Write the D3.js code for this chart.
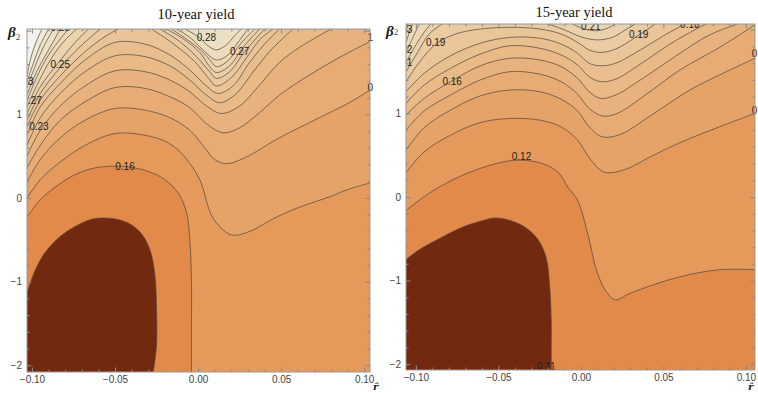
<!DOCTYPE html>
<html><head><meta charset="utf-8">
<script src="https://cdn.jsdelivr.net/npm/d3@7"></script>
<style>body{margin:0;background:#fff} svg{display:block}</style>
</head><body><svg id="c" width="758" height="393"></svg>
<script>
// ---------- axis ticks ----------
const xTicks = [-0.10, -0.05, 0, 0.05, 0.10];
const xTickLabels = ["\u22120.10", "\u22120.05", "0.00", "0.05", "0.10"];
const yTicks = [-2, -1, 0, 1];
const yTickLabels = ["\u22122", "\u22121", "0", "1"];

// ---------- 10-year yield: contour lines [r, beta] ----------
const levels10 = [0.15,0.16,0.17,0.18,0.19,0.20,0.21,0.22,0.23,0.24,0.25,0.26,0.27,0.28,0.29,0.30,0.31];
const c10_015 = [[-0.103,-1.13],[-0.098,-0.86],[-0.092,-0.65],[-0.083,-0.46],[-0.074,-0.34],[-0.065,-0.26],[-0.059,-0.24],[-0.050,-0.25],[-0.041,-0.31],[-0.034,-0.43],[-0.029,-0.62],[-0.026,-0.92],[-0.025,-1.34],[-0.025,-1.76],[-0.027,-2.08]];
const c10_016 = [[-0.103,-0.23],[-0.095,-0.02],[-0.086,0.13],[-0.074,0.28],[-0.062,0.36],[-0.052,0.38],[-0.041,0.37],[-0.029,0.31],[-0.020,0.22],[-0.012,0.06],[-0.007,-0.17],[-0.005,-0.50],[-0.004,-0.98],[-0.004,-1.58],[-0.004,-2.08]];
const c10_017 = [[-0.103,0.00],[-0.095,0.22],[-0.083,0.43],[-0.068,0.63],[-0.050,0.77],[-0.032,0.75],[-0.018,0.66],[-0.008,0.49],[0.001,0.22],[0.009,-0.24],[0.020,-0.44],[0.031,-0.40],[0.046,-0.24],[0.061,-0.11],[0.080,0.02],[0.090,0.10],[0.1035,0.18]];
const c10_018 = [[-0.103,0.19],[-0.095,0.46],[-0.083,0.72],[-0.068,0.93],[-0.050,1.07],[-0.032,1.05],[-0.017,0.96],[-0.005,0.81],[0.004,0.60],[0.010,0.46],[0.017,0.41],[0.028,0.48],[0.049,0.72],[0.073,0.96],[0.092,1.15],[0.1035,1.29]];
const c10_019 = [[-0.103,0.36],[-0.095,0.63],[-0.083,0.93],[-0.068,1.15],[-0.050,1.32],[-0.032,1.31],[-0.017,1.21],[-0.005,1.08],[0.005,0.89],[0.015,0.78],[0.025,0.84],[0.037,1.02],[0.049,1.23],[0.067,1.47],[0.086,1.69],[0.1035,1.87]];
const c10_020 = [[-0.103,0.50],[-0.095,0.81],[-0.083,1.10],[-0.068,1.34],[-0.050,1.52],[-0.032,1.51],[-0.017,1.41],[-0.005,1.27],[0.005,1.10],[0.014,1.01],[0.025,1.10],[0.037,1.35],[0.049,1.62],[0.061,1.80],[0.080,2.02]];
const c10_021 = [[-0.103,0.63],[-0.095,0.96],[-0.083,1.25],[-0.068,1.51],[-0.050,1.70],[-0.032,1.69],[-0.017,1.58],[-0.005,1.41],[0.005,1.23],[0.013,1.14],[0.022,1.23],[0.034,1.53],[0.043,1.75],[0.049,1.87],[0.057,2.02]];
const c10_022 = [[-0.103,0.75],[-0.095,1.09],[-0.083,1.37],[-0.068,1.65],[-0.050,1.86],[-0.032,1.84],[-0.017,1.71],[-0.005,1.53],[0.005,1.34],[0.012,1.25],[0.021,1.34],[0.031,1.62],[0.040,1.84],[0.049,2.02]];
const c10_023a = [[-0.103,0.85],[-0.095,1.17],[-0.083,1.46],[-0.068,1.75],[-0.056,1.93],[-0.048,2.02]];
const c10_023b = [[-0.028,2.02],[-0.014,1.83],[-0.002,1.63],[0.006,1.44],[0.011,1.34],[0.020,1.44],[0.030,1.70],[0.037,1.89],[0.045,2.02]];
const c10_024a = [[-0.103,0.93],[-0.095,1.25],[-0.083,1.56],[-0.071,1.81],[-0.059,2.02]];
const c10_024b = [[-0.023,2.02],[-0.011,1.87],[-0.001,1.69],[0.007,1.51],[0.011,1.43],[0.019,1.51],[0.028,1.75],[0.040,2.02]];
const c10_025a = [[-0.103,1.01],[-0.095,1.33],[-0.084,1.62],[-0.074,1.86],[-0.066,2.02]];
const c10_025b = [[-0.019,2.02],[-0.008,1.89],[0.001,1.74],[0.007,1.57],[0.011,1.50],[0.019,1.58],[0.027,1.80],[0.037,2.02]];
const c10_026a = [[-0.103,1.09],[-0.096,1.39],[-0.088,1.68],[-0.080,1.89],[-0.073,2.02]];
const c10_026b = [[-0.016,2.02],[-0.007,1.90],[0.002,1.76],[0.008,1.63],[0.011,1.57],[0.018,1.64],[0.025,1.83],[0.034,2.02]];
const c10_027a = [[-0.103,1.16],[-0.097,1.45],[-0.090,1.71],[-0.083,1.90],[-0.078,2.02]];
const c10_027b = [[-0.013,2.02],[-0.005,1.92],[0.003,1.77],[0.011,1.65],[0.018,1.71],[0.024,1.86],[0.030,2.02]];
const c10_028a = [[-0.103,1.23],[-0.097,1.52],[-0.090,1.77],[-0.083,2.02]];
const c10_028b = [[-0.008,2.02],[0.000,1.93],[0.006,1.82],[0.011,1.77],[0.017,1.83],[0.022,1.94],[0.026,2.02]];
const c10_029 = [[-0.103,1.32],[-0.098,1.58],[-0.093,1.81],[-0.087,2.02]];
const c10_030 = [[-0.103,1.39],[-0.099,1.62],[-0.095,1.83],[-0.090,2.02]];
const c10_031 = [[-0.103,1.45],[-0.101,1.65],[-0.098,1.84],[-0.094,2.02]];
// labels on lines: [text, r, beta]; edge labels show the part visible in the picture
const lab10 = [["0.28",0.005,1.92],["0.27",0.025,1.75],["0.25",-0.083,1.60],["0.16",-0.044,0.38],
  ["0.23",-0.0958,0.86],["0.28",-0.083,2.04]];
const edge10 = [["3",-0.1024,1.39,"start"],[".27",-0.1024,1.16,"start"],["1",0.1036,1.92,"middle"],["0",0.1036,1.32,"middle"]];

// ---------- 15-year yield ----------
const levels15 = [0.11,0.12,0.13,0.14,0.15,0.16,0.17,0.18,0.19,0.20,0.21,0.22,0.23,0.24];
const c15_011 = [[-0.106,-0.75],[-0.098,-0.63],[-0.085,-0.49],[-0.073,-0.37],[-0.061,-0.29],[-0.052,-0.25],[-0.043,-0.28],[-0.034,-0.36],[-0.026,-0.51],[-0.021,-0.73],[-0.019,-1.05],[-0.018,-1.47],[-0.018,-1.83],[-0.018,-2.07]];
const c15_012 = [[-0.106,-0.16],[-0.098,-0.04],[-0.090,0.07],[-0.073,0.25],[-0.055,0.38],[-0.040,0.44],[-0.025,0.41],[-0.014,0.30],[-0.008,0.12],[-0.002,-0.04],[0.004,-0.43],[0.010,-0.91],[0.016,-1.15],[0.021,-1.23],[0.030,-1.15],[0.059,-0.96],[0.084,-0.87],[0.1055,-0.87]];
const c15_013 = [[-0.106,0.29],[-0.095,0.54],[-0.079,0.74],[-0.061,0.89],[-0.043,0.94],[-0.025,0.92],[-0.012,0.84],[-0.002,0.68],[0.005,0.47],[0.012,0.32],[0.016,0.29],[0.027,0.33],[0.042,0.48],[0.060,0.65],[0.084,0.84],[0.1055,1.00]];
const c15_014 = [[-0.106,0.56],[-0.095,0.83],[-0.079,1.04],[-0.061,1.21],[-0.043,1.28],[-0.025,1.26],[-0.012,1.17],[-0.002,1.03],[0.005,0.84],[0.013,0.72],[0.024,0.75],[0.042,0.97],[0.066,1.28],[0.084,1.46],[0.1055,1.66]];
const c15_015 = [[-0.106,0.80],[-0.095,1.03],[-0.079,1.22],[-0.061,1.40],[-0.043,1.50],[-0.025,1.47],[-0.012,1.38],[-0.002,1.23],[0.005,1.06],[0.013,0.97],[0.022,1.00],[0.039,1.22],[0.060,1.52],[0.084,1.79],[0.1055,2.06]];
const c15_016 = [[-0.106,0.98],[-0.095,1.18],[-0.079,1.38],[-0.061,1.57],[-0.043,1.66],[-0.025,1.64],[-0.012,1.56],[-0.002,1.42],[0.005,1.26],[0.012,1.18],[0.021,1.22],[0.036,1.40],[0.060,1.72],[0.078,1.94],[0.095,2.07]];
const c15_017 = [[-0.106,1.12],[-0.095,1.34],[-0.079,1.54],[-0.061,1.71],[-0.043,1.81],[-0.025,1.78],[-0.012,1.70],[-0.002,1.58],[0.005,1.44],[0.012,1.38],[0.021,1.41],[0.036,1.59],[0.054,1.83],[0.069,2.00],[0.076,2.07]];
const c15_018 = [[-0.106,1.26],[-0.095,1.48],[-0.079,1.69],[-0.061,1.84],[-0.043,1.91],[-0.025,1.90],[-0.012,1.83],[-0.002,1.72],[0.005,1.60],[0.012,1.57],[0.021,1.60],[0.036,1.76],[0.051,1.94],[0.063,2.07]];
const c15_019 = [[-0.106,1.38],[-0.098,1.61],[-0.088,1.83],[-0.076,1.95],[-0.061,2.01],[-0.043,2.03],[-0.025,2.01],[-0.012,1.95],[-0.002,1.85],[0.005,1.76],[0.012,1.73],[0.021,1.77],[0.033,1.91],[0.045,2.07]];
const c15_020a = [[-0.106,1.50],[-0.099,1.73],[-0.092,1.95],[-0.084,2.07]];
const c15_020b = [[-0.020,2.07],[-0.010,2.00],[0.001,1.91],[0.010,1.88],[0.019,1.91],[0.027,2.00],[0.033,2.07]];
const c15_021a = [[-0.106,1.61],[-0.100,1.82],[-0.095,1.97],[-0.091,2.07]];
const c15_021b = [[-0.005,2.07],[0.002,2.01],[0.010,1.99],[0.016,2.02],[0.021,2.07]];
const c15_022 = [[-0.106,1.73],[-0.102,1.90],[-0.098,2.07]];
const c15_023 = [[-0.106,1.85],[-0.104,1.97],[-0.102,2.07]];
const c15_024 = [[-0.106,1.96],[-0.105,2.07]];
const lab15 = [["0.19",-0.088,1.85],["0.16",-0.078,1.38],["0.12",-0.036,0.48],["0.11",-0.021,-2.03],
  ["0.19",0.035,1.94],["0.21",0.006,2.035],["0.18",0.066,2.07]];
const edge15 = [["3",-0.1055,2.00,"start"],["2",-0.1055,1.76,"start"],["1",-0.1055,1.61,"start"],
  ["0",0.1036,1.72,"start"],["0",0.1036,1.04,"start"]];

// ---------- styles ----------
const pal10 = ["#73290f","#e18a49","#e5995a","#e6a367","#e7ab73","#e8b27e","#e9b986","#e9be8f","#eac497","#eac99f","#ebcea7","#ebd3ae","#ecd8b5","#ecdcbd","#ede1c5","#eee5cd","#f0eadb","#f6f3ee"];
const pal15 = ["#73290f","#e18a49","#e5995a","#e6a367","#e7ab73","#e8b27e","#e9b986","#e9bf90","#eac599","#ebcba2","#ebd1ab","#ecd6b3","#ecd9b8","#eddebf","#eee2c6"];
const FONT = "Liberation Sans, Arial, sans-serif";
const SERIF = "Liberation Serif, Times New Roman, serif";

const svg = d3.select("#c");
const defs = svg.append("defs");

function drawPanel(cfg) {
  const [r0, r1] = cfg.rDomain, [b0, b1] = cfg.bDomain;
  const x = d3.scaleLinear().domain(cfg.rDomain).range([cfg.left, cfg.right]);
  const y = d3.scaleLinear().domain(cfg.bDomain).range([cfg.bottom, cfg.top]);
  defs.append("clipPath").attr("id", "clip" + cfg.id).append("rect")
    .attr("x", cfg.left).attr("y", cfg.top)
    .attr("width", cfg.right - cfg.left).attr("height", cfg.bottom - cfg.top);
  const g = svg.append("g");
  const plot = g.append("g").attr("clip-path", `url(#clip${cfg.id})`);
  plot.append("rect").attr("x", cfg.left).attr("y", cfg.top)
    .attr("width", cfg.right - cfg.left).attr("height", cfg.bottom - cfg.top)
    .attr("fill", cfg.palette[0]);

  const line = d3.line().x(d => x(d[0])).y(d => y(d[1])).curve(d3.curveCatmullRom.alpha(0.5));
  const corners = [[r0, b0], [r1, b0], [r1, b1], [r0, b1]];
  function perim(p) {
    const W = r1 - r0, H = b1 - b0;
    const d = [Math.abs(p[1] - b0) / H, Math.abs(r1 - p[0]) / W, Math.abs(b1 - p[1]) / H, Math.abs(p[0] - r0) / W];
    const m = Math.min(...d), k = d.indexOf(m);
    if (k === 0) return (p[0] - r0) / W;
    if (k === 1) return 1 + (p[1] - b0) / H;
    if (k === 2) return 2 + (r1 - p[0]) / W;
    return 3 + (b1 - p[1]) / H;
  }
  function regionPath(pts) {
    let d = line(pts);
    const se = perim(pts[pts.length - 1]);
    let ss = perim(pts[0]);
    if (ss <= se) ss += 4;
    for (let k = Math.floor(se) + 1; k < ss; k++) {
      const c = corners[k % 4];
      d += `L${x(c[0])},${y(c[1])}`;
    }
    return d + "Z";
  }
  const pieces = cfg.pieces.slice().sort((a, b) => a.level - b.level);
  pieces.forEach(p => {
    plot.append("path").attr("d", regionPath(p.pts))
      .attr("fill", cfg.palette[cfg.levels.indexOf(p.level) + 1]).attr("stroke", "none");
  });
  pieces.forEach(p => {
    plot.append("path").attr("d", line(p.pts)).attr("fill", "none")
      .attr("stroke", "#54493f").attr("stroke-opacity", 0.8).attr("stroke-width", 0.9);
  });
  cfg.labels.forEach(l => {
    plot.append("text").attr("x", x(l[1])).attr("y", y(l[2]))
      .attr("text-anchor", "middle").attr("dy", "0.35em")
      .attr("font-family", FONT).attr("font-size", 10)
      .attr("fill", "#222").text(l[0]);
  });
  cfg.edgeLabels.forEach(l => {
    g.append("text").attr("x", x(l[1])).attr("y", y(l[2]))
      .attr("text-anchor", l[3]).attr("dy", "0.35em")
      .attr("font-family", FONT).attr("font-size", 10)
      .attr("fill", "#222").text(l[0]);
  });

  // frame
  g.append("rect").attr("x", cfg.left).attr("y", cfg.top)
    .attr("width", cfg.right - cfg.left).attr("height", cfg.bottom - cfg.top)
    .attr("fill", "none").attr("stroke", "#9a9a9a").attr("stroke-width", 1);

  const xMinor = d3.range(-10, 11).map(v => v / 100).filter(v => !xTicks.some(t => Math.abs(t - v) < 1e-9));
  const yMinor = d3.range(-10, 11).map(v => v / 5).filter(v => v >= b0 && v <= b1 && Math.abs(v - Math.round(v)) > 1e-6);
  const yMajorAll = [-2, -1, 0, 1, 2].filter(v => v >= b0 && v <= b1);
  const tickColor = "#8a8a8a";
  function styleAxis(sel) {
    sel.select(".domain").remove();
    sel.selectAll("line").attr("stroke", tickColor);
    sel.selectAll("text").attr("fill", "#444").attr("font-family", FONT).attr("font-size", 10);
  }
  g.append("g").attr("transform", `translate(0,${cfg.bottom})`)
    .call(d3.axisBottom(x).tickValues(xTicks).tickFormat((d, i) => xTickLabels[i]).tickSize(-4.5).tickPadding(4)).call(styleAxis);
  g.append("g").attr("transform", `translate(0,${cfg.bottom})`)
    .call(d3.axisBottom(x).tickValues(xMinor).tickFormat("").tickSize(-2.5)).call(styleAxis);
  g.append("g").attr("transform", `translate(0,${cfg.top})`)
    .call(d3.axisTop(x).tickValues(xTicks).tickFormat("").tickSize(-4.5)).call(styleAxis);
  g.append("g").attr("transform", `translate(0,${cfg.top})`)
    .call(d3.axisTop(x).tickValues(xMinor).tickFormat("").tickSize(-2.5)).call(styleAxis);
  g.append("g").attr("transform", `translate(${cfg.left},0)`)
    .call(d3.axisLeft(y).tickValues(yTicks).tickFormat((d, i) => yTickLabels[i]).tickSize(-4.5).tickPadding(5)).call(styleAxis);
  g.append("g").attr("transform", `translate(${cfg.left},0)`)
    .call(d3.axisLeft(y).tickValues(yMajorAll.filter(v => !yTicks.includes(v))).tickFormat("").tickSize(-4.5)).call(styleAxis);
  g.append("g").attr("transform", `translate(${cfg.left},0)`)
    .call(d3.axisLeft(y).tickValues(yMinor).tickFormat("").tickSize(-2.5)).call(styleAxis);
  g.append("g").attr("transform", `translate(${cfg.right},0)`)
    .call(d3.axisRight(y).tickValues(yMajorAll).tickFormat("").tickSize(-4.5)).call(styleAxis);
  g.append("g").attr("transform", `translate(${cfg.right},0)`)
    .call(d3.axisRight(y).tickValues(yMinor).tickFormat("").tickSize(-2.5)).call(styleAxis);

  // title
  g.append("text").attr("x", cfg.titleX).attr("y", cfg.titleY).attr("text-anchor", "middle")
    .attr("font-family", SERIF).attr("font-size", 14.5)
    .attr("fill", "#111").text(cfg.title);
  // beta_2 label
  const bl = g.append("text").attr("x", cfg.betaX).attr("y", cfg.betaY)
    .attr("font-family", SERIF).attr("fill", "#1a1a1a");
  bl.append("tspan").attr("font-size", 15).attr("font-style", "italic").attr("font-weight", "bold").text("\u03b2");
  bl.append("tspan").attr("font-size", 9).attr("dy", cfg.subDy).attr("fill", "#445").text("2");
  // r-hat axis label
  g.append("text").attr("x", cfg.rhatX).attr("y", 390)
    .attr("font-family", "DejaVu Serif, serif").attr("font-size", 10)
    .attr("font-style", "italic").attr("font-weight", "bold").attr("fill", "#1a1a1a").text("r\u0302");
}

drawPanel({
  id: "10", title: "10-year yield", titleX: 196, titleY: 18.5,
  left: 27, right: 370, top: 29, bottom: 372,
  rDomain: [-0.103, 0.1035], bDomain: [-2.08, 2.02],
  betaX: 8, betaY: 37, subDy: 3, rhatX: 373,
  levels: levels10, palette: pal10, labels: lab10, edgeLabels: edge10,
  pieces: [
    {level: 0.15, pts: c10_015}, {level: 0.16, pts: c10_016}, {level: 0.17, pts: c10_017},
    {level: 0.18, pts: c10_018}, {level: 0.19, pts: c10_019}, {level: 0.20, pts: c10_020},
    {level: 0.21, pts: c10_021}, {level: 0.22, pts: c10_022},
    {level: 0.23, pts: c10_023a}, {level: 0.23, pts: c10_023b},
    {level: 0.24, pts: c10_024a}, {level: 0.24, pts: c10_024b},
    {level: 0.25, pts: c10_025a}, {level: 0.25, pts: c10_025b},
    {level: 0.26, pts: c10_026a}, {level: 0.26, pts: c10_026b},
    {level: 0.27, pts: c10_027a}, {level: 0.27, pts: c10_027b},
    {level: 0.28, pts: c10_028a}, {level: 0.28, pts: c10_028b},
    {level: 0.29, pts: c10_029}, {level: 0.30, pts: c10_030}, {level: 0.31, pts: c10_031}
  ]
});
drawPanel({
  id: "15", title: "15-year yield", titleX: 574, titleY: 17,
  left: 406, right: 755, top: 24, bottom: 370,
  rDomain: [-0.106, 0.1055], bDomain: [-2.07, 2.07],
  betaX: 386, betaY: 36, subDy: -1, rhatX: 748,
  levels: levels15, palette: pal15, labels: lab15, edgeLabels: edge15,
  pieces: [
    {level: 0.11, pts: c15_011}, {level: 0.12, pts: c15_012}, {level: 0.13, pts: c15_013},
    {level: 0.14, pts: c15_014}, {level: 0.15, pts: c15_015}, {level: 0.16, pts: c15_016},
    {level: 0.17, pts: c15_017}, {level: 0.18, pts: c15_018}, {level: 0.19, pts: c15_019},
    {level: 0.20, pts: c15_020a}, {level: 0.20, pts: c15_020b}, {level: 0.21, pts: c15_021a},
    {level: 0.21, pts: c15_021b}, {level: 0.22, pts: c15_022}, {level: 0.23, pts: c15_023},
    {level: 0.24, pts: c15_024}
  ]
});
</script>
</body></html>
